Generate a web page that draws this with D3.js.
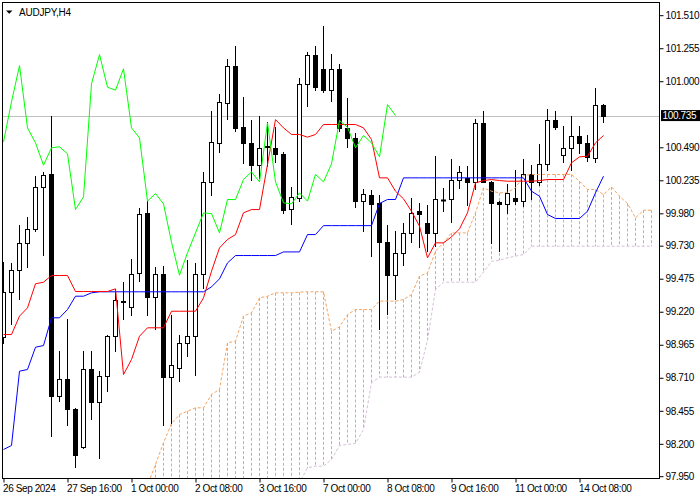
<!DOCTYPE html>
<html><head><meta charset="utf-8">
<script src="https://cdn.jsdelivr.net/npm/d3@7"></script>
<style>body{margin:0;background:#fff}svg{display:block}text{font-family:"Liberation Sans",Arial,sans-serif}</style>
</head><body><svg id="c" width="700" height="500"></svg>
<script>
const symbol = "AUDJPY,H4";
const timeLabels = ["26 Sep 2024","27 Sep 16:00","1 Oct 00:00","2 Oct 08:00","3 Oct 16:00","7 Oct 00:00","8 Oct 08:00","9 Oct 16:00","11 Oct 00:00","14 Oct 08:00"];
const timeLabelBars = [0,8,16,24,32,40,48,56,64,72];
const priceTicks = [101.510,101.255,101.000,100.490,100.235,99.980,99.730,99.475,99.220,98.965,98.710,98.455,98.200,97.950];
const lastPrice = 100.735;

const open = [99.024,99.374,99.546,99.752,99.860,100.184,100.280,98.568,98.697,98.470,
98.176,98.774,98.524,98.727,99.036,99.305,99.258,99.520,99.979,99.333,
99.513,98.715,98.787,98.980,99.031,99.513,100.223,100.524,100.833,101.121,
100.645,100.524,100.352,100.498,100.488,100.442,100.014,100.099,100.980,101.206,
101.096,100.931,101.096,100.640,100.563,100.074,100.125,100.061,99.760,99.502,
99.675,99.829,99.996,99.906,99.829,100.084,100.087,100.241,100.249,100.223,
100.679,100.223,100.066,100.053,100.099,100.074,100.280,100.223,100.362,100.697,
100.434,100.486,100.581,100.524,100.408,100.820];
const high = [99.605,99.598,99.886,99.948,100.267,100.298,100.730,98.915,99.165,98.480,
98.915,98.915,98.761,99.044,99.397,99.448,99.631,100.022,100.079,99.564,
99.577,99.198,99.044,99.616,99.598,100.298,100.774,100.903,101.173,101.276,
100.879,100.697,100.735,100.684,100.643,100.455,100.184,101.026,101.227,101.276,
101.430,101.214,101.137,100.867,100.601,100.169,100.159,100.120,99.891,99.847,
99.906,100.099,100.056,100.043,100.421,100.177,100.403,100.344,100.344,100.712,
100.774,100.228,100.074,100.210,100.311,100.396,100.357,100.519,100.789,100.774,
100.653,100.735,100.653,100.588,100.949,100.825];
const low = [98.980,99.129,99.320,99.564,99.842,99.662,98.259,98.529,98.349,98.022,
98.169,98.393,98.092,98.607,98.915,99.165,99.198,99.461,99.193,99.083,
98.349,98.362,98.684,98.882,98.735,99.400,100.120,100.455,100.710,100.614,
100.370,100.236,100.249,100.344,100.375,99.984,99.899,100.074,100.807,100.936,
100.915,100.846,100.619,100.491,100.027,99.842,99.654,99.083,99.206,99.322,
99.580,99.757,99.719,99.688,99.726,99.996,99.911,100.177,100.048,100.164,
100.220,99.752,99.688,99.984,100.053,100.035,100.094,100.202,100.318,100.635,
100.375,100.318,100.447,100.383,100.378,100.684];
const close = [99.374,99.541,99.752,99.860,100.184,100.277,98.568,98.697,98.470,98.112,
98.774,98.524,98.727,99.036,99.307,99.298,99.513,99.971,99.333,99.513,
98.715,98.812,98.980,99.031,99.513,100.223,100.532,100.841,101.121,100.640,
100.524,100.352,100.486,100.494,100.439,100.009,100.107,100.980,101.206,100.954,
100.931,101.096,100.640,100.563,100.074,100.133,100.053,99.757,99.502,99.675,
99.829,99.983,99.978,99.829,100.087,100.086,100.241,100.300,100.223,100.679,
100.223,100.061,100.053,100.138,100.074,100.280,100.223,100.362,100.697,100.645,
100.486,100.581,100.524,100.416,100.820,100.735];

const tenkan = [99.044,99.044,99.186,99.250,99.436,99.448,99.500,99.500,99.500,99.376,
99.376,99.376,99.376,99.376,99.397,98.735,98.851,99.031,99.096,99.096,
99.096,99.224,99.224,99.224,99.224,99.327,99.533,99.713,99.778,99.816,
99.984,100.009,100.009,100.357,100.704,100.640,100.589,100.589,100.568,100.589,
100.666,100.666,100.666,100.666,100.666,100.640,100.550,100.254,100.254,100.151,
100.092,99.996,99.881,99.636,99.752,99.752,99.798,99.860,99.984,100.215,
100.233,100.241,100.233,100.228,100.228,100.228,100.228,100.233,100.241,100.241,
100.241,100.370,100.416,100.421,100.524,100.581];
const kijun = [98.156,98.187,98.761,98.774,98.946,98.959,99.173,99.173,99.237,99.340,
99.340,99.366,99.374,99.374,99.374,99.374,99.374,99.374,99.374,99.374,
99.374,99.374,99.374,99.374,99.374,99.374,99.412,99.474,99.597,99.654,
99.654,99.654,99.654,99.654,99.654,99.682,99.682,99.682,99.816,99.816,
99.885,99.885,99.885,99.885,99.885,99.885,99.885,100.056,100.087,100.087,
100.254,100.254,100.254,100.254,100.254,100.254,100.254,100.254,100.254,100.254,
100.254,100.254,100.254,100.254,100.254,100.254,100.151,100.112,99.971,99.940,
99.940,99.940,99.940,99.996,100.138,100.267];
// Senkou spans, already shifted 26 bars ahead; first value belongs to bar 17
const spanStart = 17;
const spanA = [97.72,97.88,98.040,98.208,98.357,98.426,98.452,98.478,98.478,98.581,
98.620,98.980,98.993,99.186,99.212,99.327,99.340,99.366,99.366,99.366,
99.371,99.374,99.374,99.374,99.070,99.103,99.198,99.237,99.237,99.237,
99.302,99.302,99.302,99.314,99.353,99.495,99.520,99.688,99.752,99.829,
99.829,99.829,99.984,100.177,100.151,100.138,100.143,100.177,100.272,100.280,
100.280,100.280,100.280,100.280,100.280,100.228,100.164,100.164,100.125,100.184,
100.112,100.056,99.945,100.004,100.004];
const spanB = [97.60,97.60,97.60,97.60,97.60,97.60,97.60,97.60,97.60,97.60,
97.60,97.60,97.60,97.60,97.60,97.60,97.60,97.60,97.60,97.60,
97.90,98.015,98.027,98.027,98.079,98.187,98.195,98.203,98.311,98.671,
98.715,98.715,98.715,98.715,98.715,98.753,99.000,99.392,99.448,99.448,
99.448,99.448,99.448,99.526,99.610,99.618,99.636,99.649,99.662,99.726,
99.726,99.726,99.726,99.726,99.726,99.726,99.726,99.726,99.726,99.726,
99.726,99.726,99.726,99.726,99.726];
const chikouShift = 26;

const svg = d3.select("#c");
const L = 2.5, T = 2.5, R = 659.5, B = 478.5;
const x = d3.scaleLinear().domain([0, 81]).range([3.5, 651.5]);
const y = d3.scaleLinear().domain([97.95, 101.51]).range([476.2, 15.2]);

svg.append("rect").attr("width",700).attr("height",500).attr("fill","#fff");
svg.append("defs").append("clipPath").attr("id","clip")
  .append("rect").attr("x",L+0.5).attr("y",T+0.5).attr("width",R-L-1).attr("height",B-T-1);
const plot = svg.append("g").attr("clip-path","url(#clip)");

// current price line
plot.append("line").attr("x1",L).attr("x2",R)
  .attr("y1",Math.round(y(lastPrice))+0.5).attr("y2",Math.round(y(lastPrice))+0.5)
  .attr("stroke","#c0c0c0").attr("stroke-width",1);

// cloud histogram
const cloud = d3.range(spanA.length).map(i => ({i: i+spanStart, a: spanA[i], b: spanB[i]}));
plot.append("g").selectAll("line").data(cloud).join("line")
  .attr("x1", d => x(d.i)).attr("x2", d => x(d.i))
  .attr("y1", d => y(d.a)).attr("y2", d => y(d.b))
  .attr("stroke", d => d.a >= d.b ? "#f4a460" : "#d8bfd8")
  .attr("stroke-width",1).attr("stroke-dasharray","3,2");

// candles
const bars = d3.range(open.length).map(i => ({i, o: open[i], h: high[i], l: low[i], c: close[i]}));
const cg = plot.append("g");
cg.selectAll("line.wick").data(bars).join("line").attr("class","wick")
  .attr("x1", d => x(d.i)).attr("x2", d => x(d.i))
  .attr("y1", d => Math.round(y(d.h))).attr("y2", d => Math.round(y(d.l))+1)
  .attr("stroke","#000").attr("stroke-width",1);
bars.forEach(d => {
  const yt = Math.round(y(Math.max(d.o,d.c))) + 0.5;
  const yb = Math.round(y(Math.min(d.o,d.c))) + 0.5;
  if (yb - yt < 1) {
    cg.append("line").attr("x1", x(d.i)-2.5).attr("x2", x(d.i)+2.5)
      .attr("y1", yt).attr("y2", yt).attr("stroke","#000").attr("stroke-width",2);
  } else {
    cg.append("rect").attr("x", x(d.i)-2).attr("width",4)
      .attr("y", yt).attr("height", yb-yt)
      .attr("fill", d.c >= d.o ? "#fff" : "#000").attr("stroke","#000").attr("stroke-width",1);
  }
});

// indicator lines
const line = off => d3.line().defined(d => d != null).x((d,i) => x(i+off)).y(d => y(d));
plot.append("path").datum(spanA).attr("d", line(spanStart)).attr("fill","none")
  .attr("stroke","#f4a460").attr("stroke-width",1).attr("stroke-dasharray","3,2");
plot.append("path").datum(spanB).attr("d", line(spanStart)).attr("fill","none")
  .attr("stroke","#d8bfd8").attr("stroke-width",1).attr("stroke-dasharray","3,2");
plot.append("path").datum(kijun).attr("d", line(0)).attr("fill","none").attr("stroke","#0000ff").attr("stroke-width",1);
plot.append("path").datum(tenkan).attr("d", line(0)).attr("fill","none").attr("stroke","#ff0000").attr("stroke-width",1);
const chikou = close.slice(chikouShift);
plot.append("path").datum(chikou).attr("d", line(0)).attr("fill","none").attr("stroke","#00ff00").attr("stroke-width",1);

// frame
svg.append("rect").attr("x",L).attr("y",T).attr("width",R-L).attr("height",B-T)
  .attr("fill","none").attr("stroke","#000").attr("stroke-width",1);

// axes
const ay = svg.append("g").attr("transform",`translate(${R},0)`)
  .call(d3.axisRight(y).tickValues(priceTicks).tickSize(4).tickPadding(2).tickFormat(d3.format(".3f")));
ay.select(".domain").remove();
ay.selectAll("text").attr("font-size",10).attr("font-family","Liberation Sans, Arial, sans-serif")
  .attr("letter-spacing","-0.35").attr("fill","#000");

const ax = svg.append("g").attr("transform",`translate(0,${B})`)
  .call(d3.axisBottom(x).tickValues(timeLabelBars).tickSize(4).tickFormat((d,i) => timeLabels[i]));
ax.select(".domain").remove();
ax.selectAll("text").attr("text-anchor","start").attr("x",-1).attr("y",13.5).attr("dy",null)
  .attr("font-size",10).attr("font-family","Liberation Sans, Arial, sans-serif")
  .attr("letter-spacing","-0.4").attr("fill","#000");

// current price label
const yp = y(lastPrice);
svg.append("rect").attr("x",661).attr("y",yp-5.5).attr("width",39).attr("height",11).attr("fill","#000");
svg.append("text").attr("x",662.5).attr("y",yp+3.6).attr("fill","#fff").attr("font-size",10)
  .attr("letter-spacing","-0.35").text(lastPrice.toFixed(3));

// title
svg.append("path").attr("d","M6,10.5 L12.5,10.5 L9.25,13.8 Z").attr("fill","#000");
svg.append("text").attr("x",19).attr("y",15.5).attr("font-size",10).attr("fill","#000")
  .attr("letter-spacing","-0.2").text(symbol);
</script>
</body></html>
